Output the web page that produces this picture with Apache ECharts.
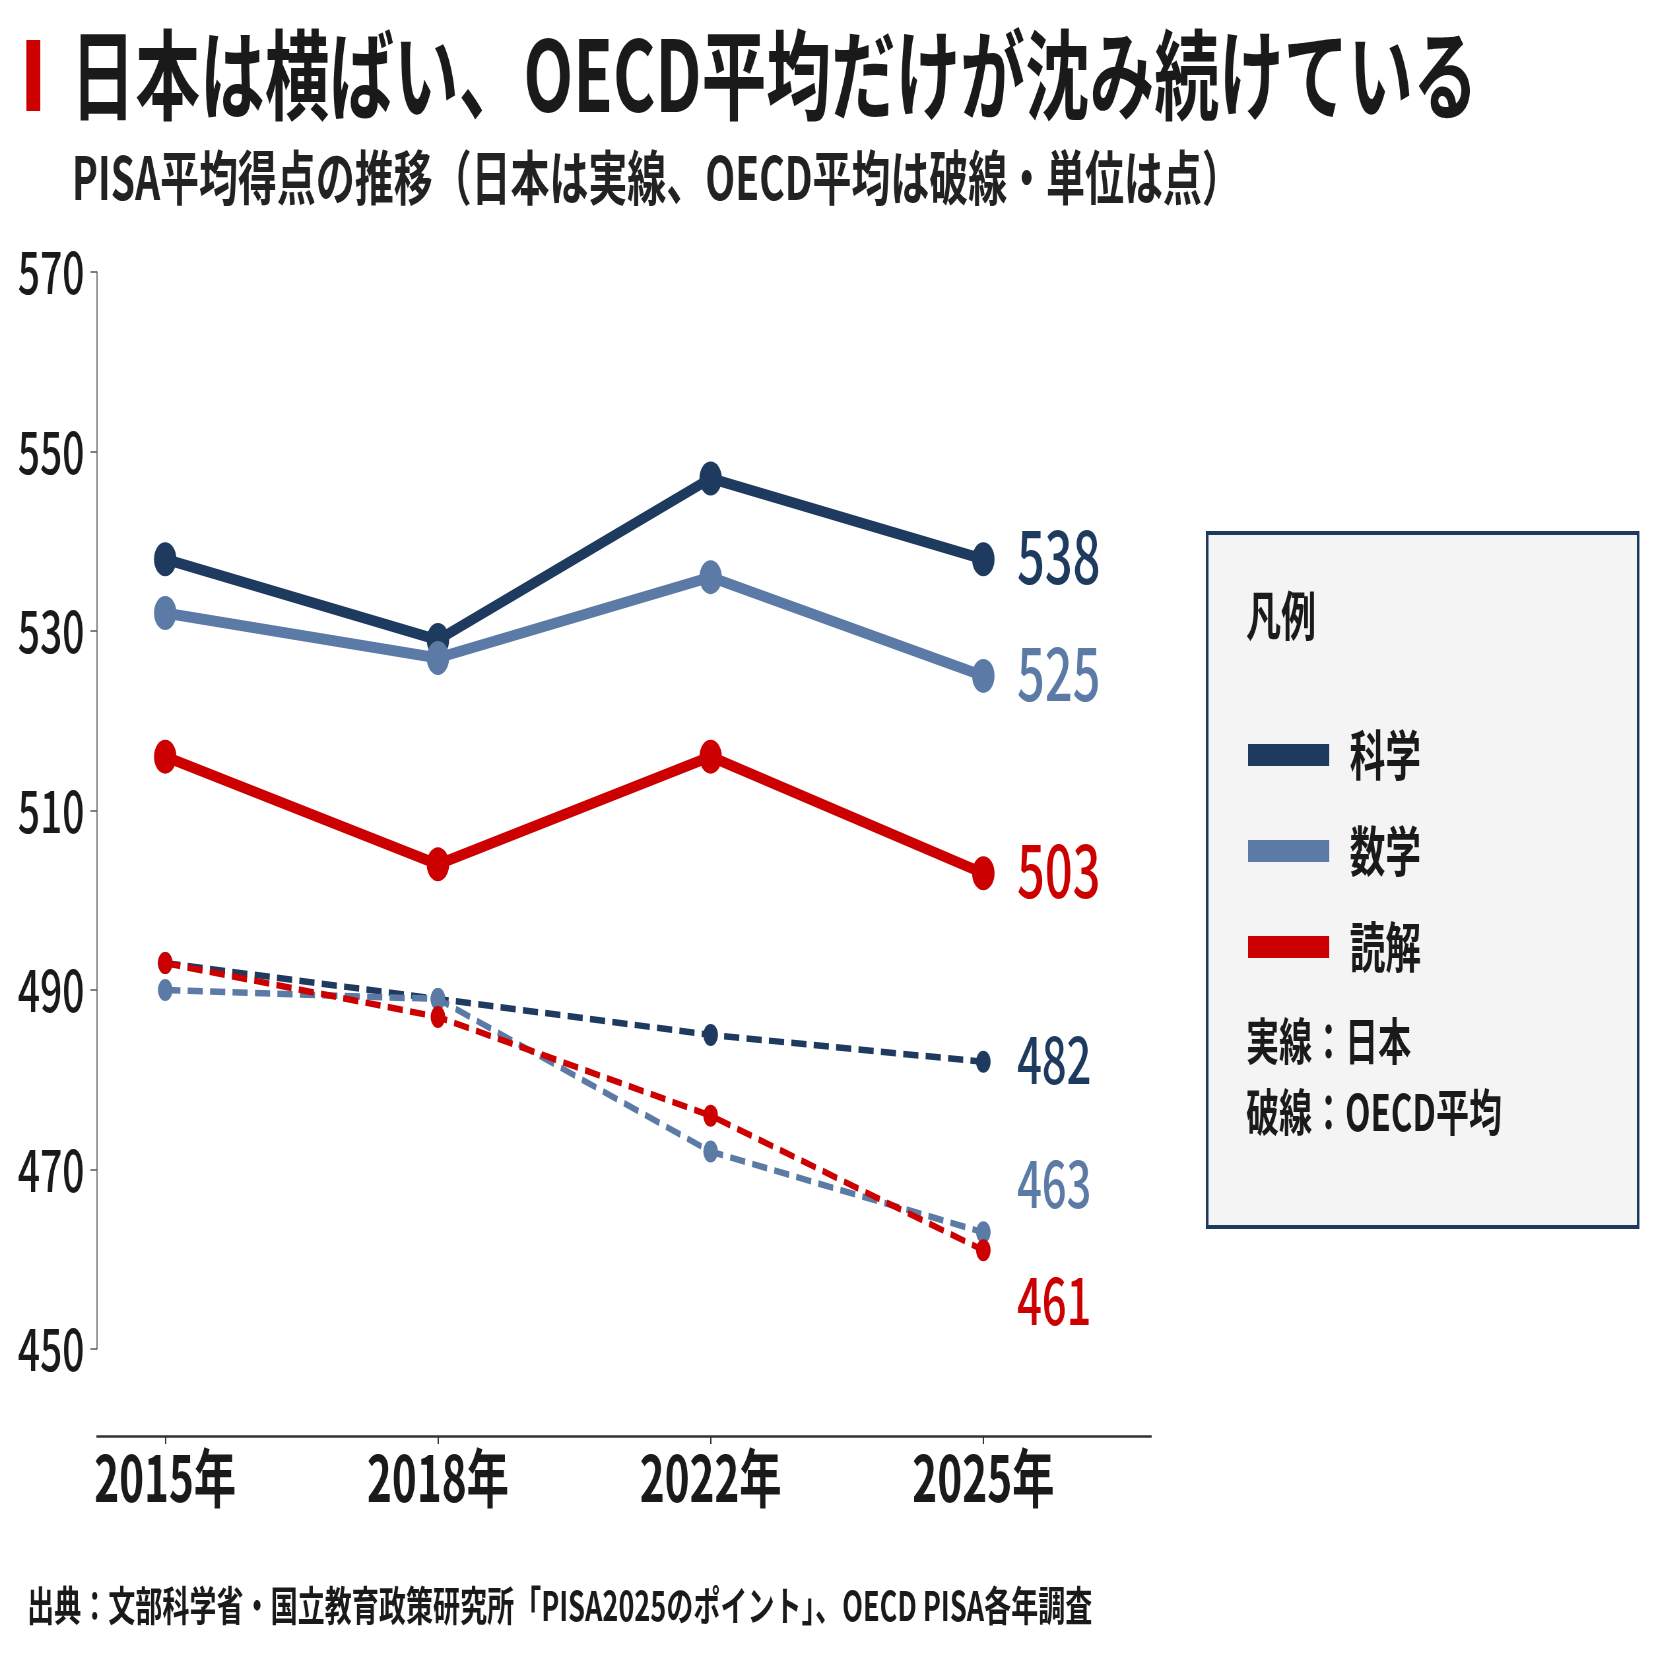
<!DOCTYPE html>
<html><head><meta charset="utf-8">
<script src="https://cdn.jsdelivr.net/npm/echarts@6/dist/echarts.min.js"></script>
<style>
html,body{margin:0;padding:0;background:#fff;overflow:hidden;width:1656px;height:1656px;}
#c{width:2509px;height:1656px;transform:scaleX(0.66);transform-origin:0 0;}
</style></head>
<body><div id="c"></div>
<script>
const years = ['2015年','2018年','2022年','2025年'];
const jpScience = [538,529,547,538];
const jpMath = [532,527,536,525];
const jpReading = [516,504,516,503];
const oecdScience = [493,489,485,482];
const oecdMath = [490,489,472,463];
const oecdReading = [493,487,476,461];
const subjects = ['科学','数学','読解'];

const NAVY = '#1f3a5f', STEEL = '#5b7ba6', RED = '#cc0000', INK = '#1a1a1a';
const FONT = "'Noto Sans CJK JP','Noto Sans',sans-serif";

function build(values, color, fontSize, dy, dist) {
  const last = values.length - 1;
  return values.map((v, i) => i === last ? {
    value: [i, v],
    label: { show: true, position: 'right', distance: dist, offset: [0, dy],
      formatter: p => String(p.value[1]), color: color, fontSize: fontSize,
      fontFamily: FONT, fontWeight: 500 }
  } : [i, v]);
}

function jpSeries(name, values, color) {
  return { name, type: 'line', data: build(values, color, 74, -3, 34), z: 5,
    symbol: 'circle', symbolSize: 34, lineStyle: { color, width: 11 },
    itemStyle: { color }, color };
}
function oecdSeries(name, values, color, dy) {
  return { name, type: 'line', data: build(values, color, 66, dy, 40), z: 3,
    symbol: 'circle', symbolSize: 22, lineStyle: { color, width: 6.5, type: [23, 11] },
    itemStyle: { color }, color };
}

const chart = echarts.init(document.getElementById('c'), null, { renderer: 'canvas' });
chart.setOption({
  animation: false,
  backgroundColor: '#fff',
  textStyle: { fontFamily: FONT },
  title: [
    { text: '日本は横ばい、OECD平均だけが沈み続けている', left: 102, top: 21,
      textStyle: { fontSize: 98, fontWeight: 'bold', color: INK, fontFamily: FONT } },
    { text: 'PISA平均得点の推移（日本は実線、OECD平均は破線・単位は点）', left: 104, top: 143,
      textStyle: { fontSize: 59, fontWeight: 'bold', color: '#222', fontFamily: FONT } },
    { text: '出典：文部科学省・国立教育政策研究所「PISA2025のポイント」、OECD PISA各年調査', left: 36, top: 1580,
      textStyle: { fontSize: 41, fontWeight: 'bold', color: INK, fontFamily: FONT } }
  ],
  grid: { left: 147, right: 765, top: 272, bottom: 307, containLabel: false },
  xAxis: {
    type: 'value', min: -0.25, max: 3.615, offset: 87,
    axisLine: { show: true, onZero: false, lineStyle: { color: '#333', width: 2.5 } },
    axisTick: { show: true, customValues: [0,1,2,3], length: 8, lineStyle: { color: '#333', width: 2 } },
    axisLabel: { customValues: [0,1,2,3], formatter: v => years[Math.round(v)], fontSize: 64,
      fontWeight: 'bold', color: INK, margin: 10, fontFamily: FONT },
    splitLine: { show: false }
  },
  yAxis: {
    type: 'value', min: 450, max: 570, interval: 20,
    axisLine: { show: true, onZero: false, lineStyle: { color: '#555', width: 1.5 } },
    axisTick: { show: true, length: 10, lineStyle: { color: '#555', width: 1.5 } },
    axisLabel: { fontSize: 59, fontWeight: 500, color: INK, margin: 19, fontFamily: FONT },
    splitLine: { show: false }
  },
  legend: {
    data: subjects, orient: 'vertical', left: 1886, top: 723,
    icon: 'rect', itemWidth: 123, itemHeight: 22, itemGap: 42,
    textStyle: { fontSize: 54, fontWeight: 'bold', color: INK, fontFamily: FONT, lineHeight: 54, padding: [0,0,0,26] },
    selectedMode: false, z: 10
  },
  graphic: [
    { type: 'rect', left: 40, top: 40, shape: { width: 21, height: 71 }, style: { fill: RED } },
    { type: 'rect', left: 1827, top: 531, z: 1, shape: { width: 653, height: 694 },
      style: { fill: '#f4f4f4', stroke: NAVY, lineWidth: 4 } },
    { type: 'text', left: 1888, top: 589, z: 11, style: { text: '凡例', font: "bold 53px 'Noto Sans CJK JP'", fill: INK } },
    { type: 'text', left: 1888, top: 1016, z: 11, style: { text: '実線：日本', font: "bold 50px 'Noto Sans CJK JP'", fill: INK } },
    { type: 'text', left: 1888, top: 1087, z: 11, style: { text: '破線：OECD平均', font: "bold 50px 'Noto Sans CJK JP'", fill: INK } }
  ],
  series: [
    oecdSeries('OECD科学', oecdScience, NAVY, -3),
    oecdSeries('OECD数学', oecdMath, STEEL, -49),
    oecdSeries('OECD読解', oecdReading, RED, 50),
    jpSeries('科学', jpScience, NAVY),
    jpSeries('数学', jpMath, STEEL),
    jpSeries('読解', jpReading, RED)
  ]
});
</script></body></html>
